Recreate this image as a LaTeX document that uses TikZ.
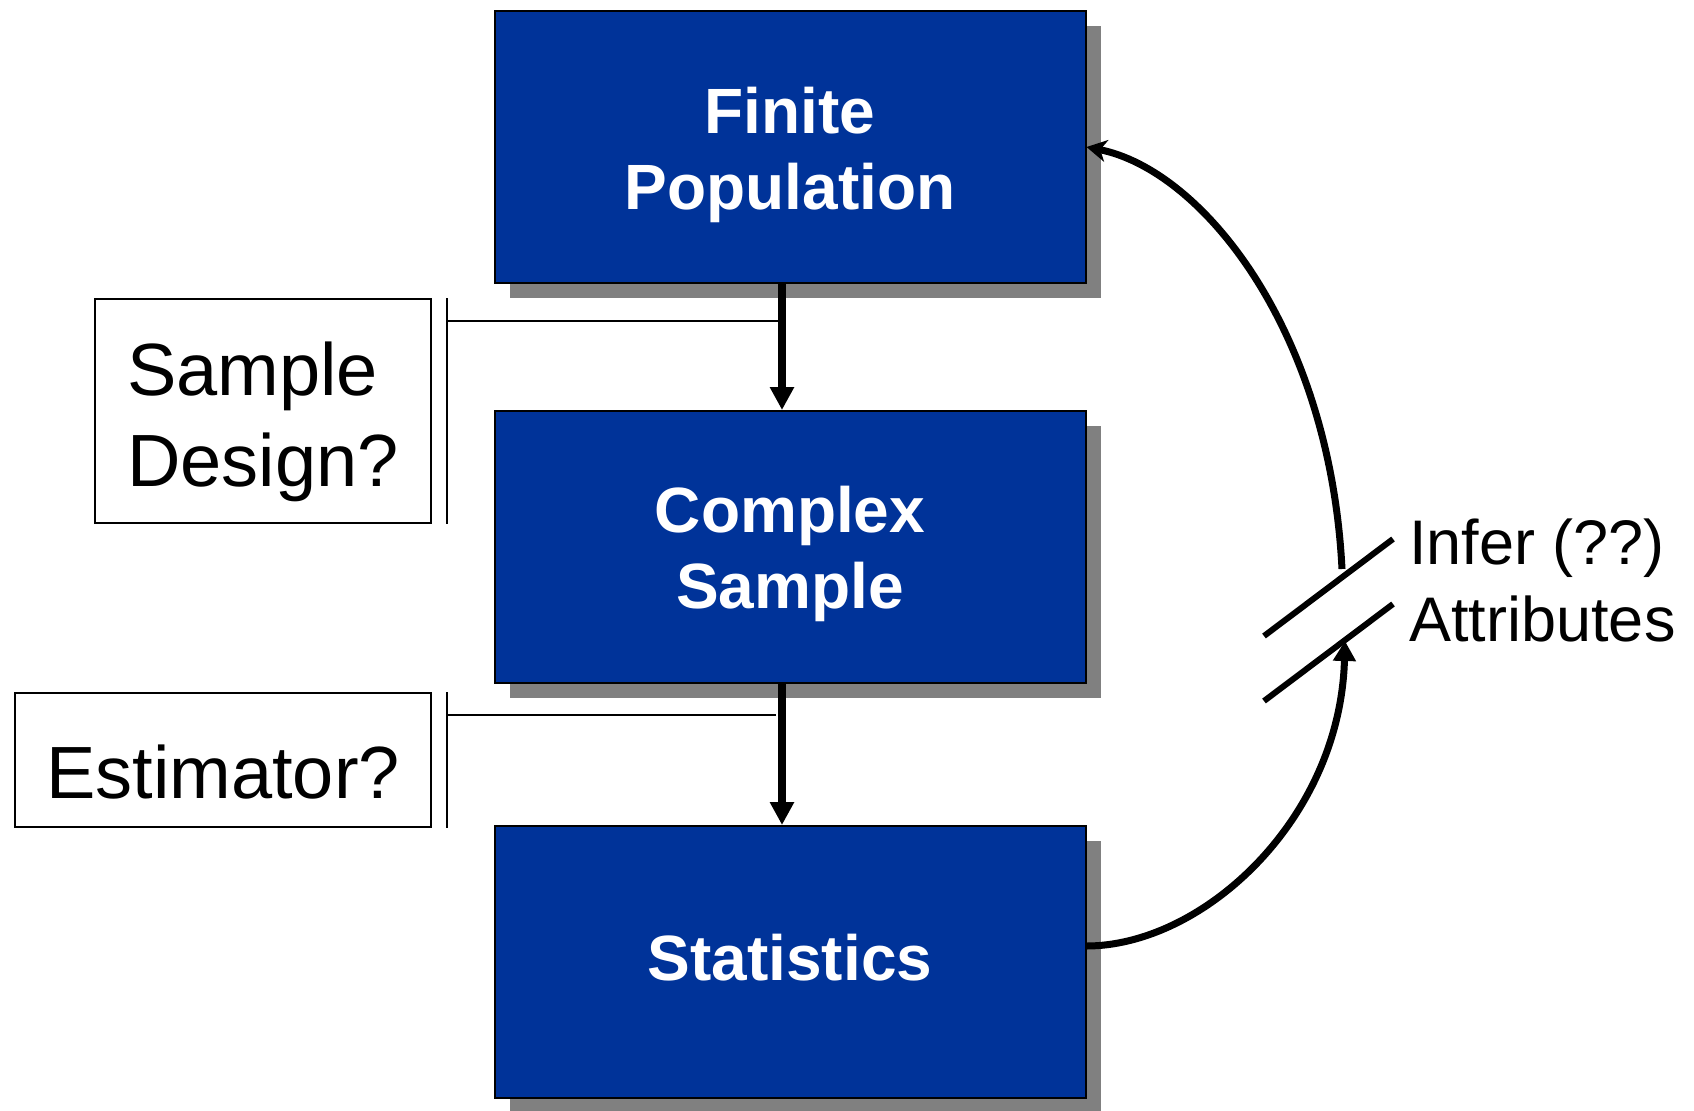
\documentclass[tikz,border=0pt]{standalone}
\usepackage{fontspec}
\setmainfont{Liberation Sans}
\usetikzlibrary{arrows.meta,calc,positioning,shadows}
\definecolor{boxblue}{RGB}{0,51,153}
\definecolor{shade}{RGB}{128,128,128}
\tikzset{
  block/.style={draw,line width=1pt,rectangle,fill=boxblue,text=white,align=center,
    minimum width=295.5pt,minimum height=136pt,
    font=\fontsize{32}{38}\selectfont\bfseries,
    drop shadow={shadow xshift=7.5pt,shadow yshift=-7.5pt,fill=shade,opacity=1}},
  query/.style={draw,line width=1pt,rectangle,align=left,inner sep=0pt,
    font=\fontsize{37}{45.5}\selectfont},
  bar/.style={line width=1pt},
  flow/.style={line width=4pt,-{Triangle[length=11.5pt,width=11.5pt]}},
  loop/.style={line width=3.5pt}
}

\begin{document}
\begin{tikzpicture}[x=0.5pt,y=-0.5pt]
  \useasboundingbox (0,0) rectangle (1694,1110);

  \node[block,text height=62pt,text depth=0pt] (fp) at (790,147) {Finite\\Population};
  \node[block,text height=61pt,text depth=0pt] (cs) at (790,547) {Complex\\Sample};
  \node[block,text height=18pt,text depth=0pt] (st) at (790,962) {Statistics};
  \coordinate (ax) at (782,0);

  \node[query,minimum width=168pt,minimum height=112pt,text height=75pt,text depth=0pt]
    (sd) at (263,411) {Sample\\Design?};
  \node[query,minimum width=208pt,minimum height=67pt,text height=38pt,text depth=0pt]
    (est) at (223,760) {Estimator?};

  \draw[flow] (fp.south -| ax) -- (cs.north -| ax);
  \draw[flow] (cs.south -| ax) -- (st.north -| ax);

  % brackets to the arrows
  \draw[bar] ([xshift=7.5pt]sd.north east) -- ([xshift=7.5pt]sd.south east);
  \draw[bar] ([xshift=7.5pt,yshift=-11.5pt]sd.north east) -- ([yshift=-11.5pt]sd.north east -| ax);
  \draw[bar] ([xshift=7.5pt]est.north east) -- ([xshift=7.5pt]est.south east);
  \draw[bar] ([xshift=7.5pt,yshift=-11.5pt]est.north east) -- ([xshift=-3pt,yshift=-11.5pt]est.north east -| ax);

  % broken inference loop
  \coordinate (cutlo) at (1345,641);
  \coordinate (cuthi) at (1342,569);
  \draw[loop,-{Triangle[length=10pt,width=11pt]}]
    ([yshift=8pt]st.east) .. controls +(116,0) and +(-5,179) .. (cutlo);
  \draw[loop,-{Stealth[length=10pt,width=11pt,inset=3pt]}]
    (cuthi) .. controls +(-12,-239) and +(116,23) .. (fp.east);
  \draw[line width=3pt] (1264,636) -- (1393,539);
  \draw[line width=3pt] (1264,701) -- (1393,604);

  \node[anchor=west,align=left,inner sep=0pt,font=\fontsize{31.5}{38.5}\selectfont]
    (inf) at (1409,580) {Infer (??)\\Attributes};
\end{tikzpicture}
\end{document}
